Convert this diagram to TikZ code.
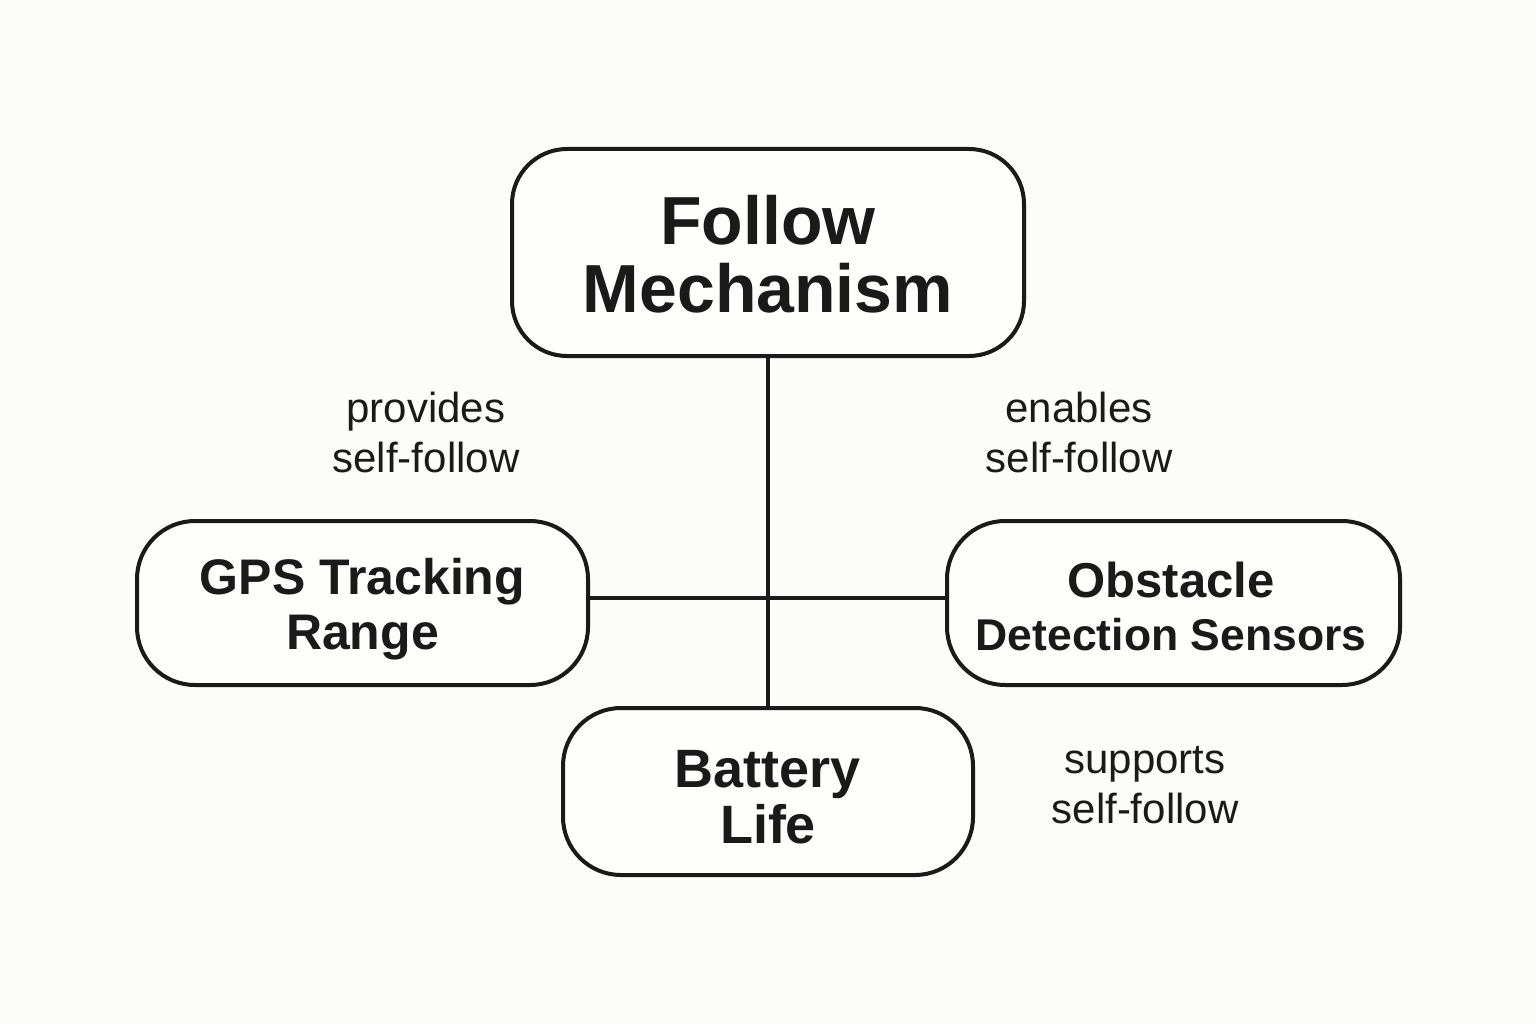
\documentclass[tikz,border=0pt]{standalone}
\usepackage{fontspec}
\setmainfont{Liberation Sans}
\definecolor{bg}{HTML}{FCFCFA}
\definecolor{ink}{HTML}{1A1A1A}
\begin{document}
\begin{tikzpicture}[x=1pt,y=-1pt,
  box/.style={draw=ink,line width=4pt,rounded corners=58pt,fill=white!60!bg,inner sep=0pt},
  btxt/.style={align=center,inner sep=0pt,text=ink,font=\bfseries},
  lbl/.style={align=center,text=ink,font=\fontsize{42}{50}\selectfont},
  conn/.style={draw=ink,line width=4pt}]
\fill[bg] (0,0) rectangle (1536,1024);
\useasboundingbox (0,0) rectangle (1536,1024);
\node[box,minimum width=512pt,minimum height=207pt,rounded corners=55pt] (fm) at (768,252.5) {};
\node[btxt,font=\bfseries\fontsize{68}{68}\selectfont] (fmT) at (768,254) {Follow\\Mechanism};
\node[box,minimum width=451pt,minimum height=164pt] (gps) at (362.5,603) {};
\node[btxt,font=\bfseries\fontsize{50}{55}\selectfont] (gpsT) at (362.5,609) {GPS Tracking\\Range};
\node[box,minimum width=453pt,minimum height=164pt] (obs) at (1173.5,603) {};
\node[btxt,font=\bfseries\fontsize{49}{53}\selectfont] (obsT) at (1171,606) {Obstacle\\{\fontsize{44.5}{53}\selectfont Detection Sensors}};
\node[box,minimum width=410pt,minimum height=167pt] (bat) at (768,791.5) {};
\node[btxt,font=\bfseries\fontsize{54}{56}\selectfont] (batT) at (768,797) {Battery\\Life};
\draw[conn] (fm.south) -- (bat.north);
\draw[conn] ([yshift=5pt]gps.east) -- ([yshift=5pt]obs.west);
\node[lbl] (l1) at (426,432) {provides\\self-follow};
\node[lbl] (l2) at (1079,432) {enables\\self-follow};
\node[lbl] (l3) at (1145,785) {supports\\self-follow};
\end{tikzpicture}
\end{document}
